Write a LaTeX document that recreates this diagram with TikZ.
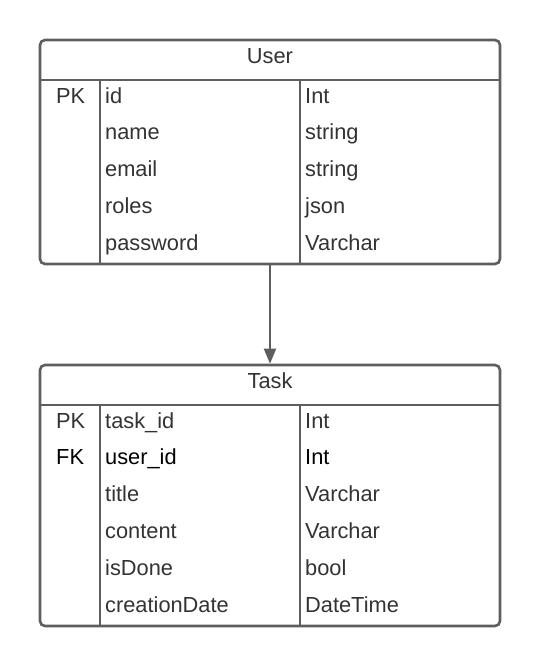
\documentclass[tikz,border=0pt]{standalone}
\usepackage{fontspec}
\setmainfont{Liberation Sans}
\usetikzlibrary{arrows.meta}
\definecolor{linec}{HTML}{5E5E5E}
\definecolor{txtc}{HTML}{333333}
\tikzset{
  tbl/.style={draw=linec, line width=2.6pt, rounded corners=5pt, inner sep=0pt, fill=white},
  sep/.style={draw=linec, line width=2.6pt},
  cell/.style={anchor=mid west, inner sep=0pt, text=txtc, font=\fontsize{21.8}{26}\selectfont},
  hdr/.style={anchor=mid, inner sep=0pt, text=txtc, font=\fontsize{21.8}{26}\selectfont},
  rel/.style={draw=linec, line width=2pt, -{Triangle[length=15pt,width=12pt]}},
}
\begin{document}
\begin{tikzpicture}[x=1pt,y=-1pt]
\useasboundingbox[fill=white] (0,0) rectangle (540,667);
% User table
\node[tbl, minimum width=460pt, minimum height=224pt] (user) at (270,152) {};
\draw[sep] (40,80) -- (500,80);
\draw[sep] (100,80) -- (100,264);
\draw[sep] (300,80) -- (300,264);
\node[hdr] (uh) at (270,61) {User};
\node[cell] (u1k) at (56,101) {PK};
\node[cell] (u1n) at (105,101) {id};
\node[cell] (u1t) at (305,101) {Int};
\node[cell] (u2n) at (105,137) {name};
\node[cell] (u2t) at (305,137) {string};
\node[cell] (u3n) at (105,174) {email};
\node[cell] (u3t) at (305,174) {string};
\node[cell] (u4n) at (105,211) {roles};
\node[cell] (u4t) at (305,211) {json};
\node[cell] (u5n) at (105,248) {password};
\node[cell] (u5t) at (305,248) {Varchar};
% Task table
\node[tbl, minimum width=460pt, minimum height=261pt] (task) at (270,495.5) {};
\draw[sep] (40,405) -- (500,405);
\draw[sep] (100,405) -- (100,626);
\draw[sep] (300,405) -- (300,626);
\node[hdr] (th) at (270,386) {Task};
\node[cell] (t1k) at (56,426) {PK};
\node[cell] (t1n) at (105,426) {task\_id};
\node[cell] (t1t) at (305,426) {Int};
\node[cell, text=black] (t2k) at (56,462) {FK};
\node[cell, text=black] (t2n) at (105,462) {user\_id};
\node[cell, text=black] (t2t) at (305,462) {Int};
\node[cell] (t3n) at (105,499) {title};
\node[cell] (t3t) at (305,499) {Varchar};
\node[cell] (t4n) at (105,536) {content};
\node[cell] (t4t) at (305,536) {Varchar};
\node[cell] (t5n) at (105,573) {isDone};
\node[cell] (t5t) at (305,573) {bool};
\node[cell] (t6n) at (105,610) {creationDate};
\node[cell] (t6t) at (305,610) {DateTime};
% relation
\draw[rel] (user.south) -- (task.north);
\end{tikzpicture}
\end{document}
